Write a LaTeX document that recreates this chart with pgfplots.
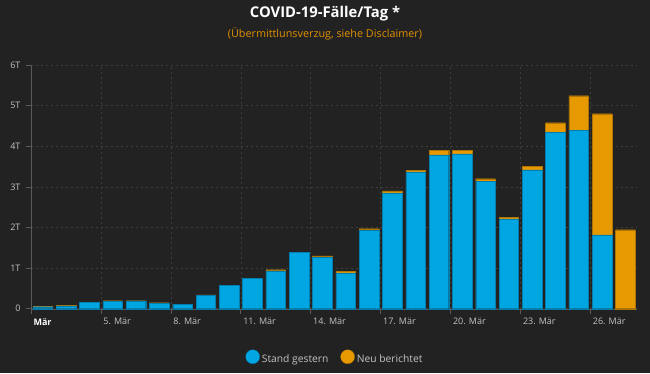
\documentclass[border=0pt]{standalone}
\usepackage{fontspec}
\setmainfont{Open Sans}
\usepackage{pgfplots}
\pgfplotsset{compat=1.18}
\definecolor{bg}{RGB}{34,34,34}
\definecolor{cblue}{RGB}{0,166,226}
\definecolor{cblueD}{RGB}{0,125,175}
\definecolor{corange}{RGB}{230,153,0}
\definecolor{corangeD}{RGB}{175,115,0}
\definecolor{gridc}{RGB}{62,62,62}
\definecolor{axc}{RGB}{90,90,90}
\definecolor{lbl}{RGB}{195,195,195}
\definecolor{subc}{RGB}{225,145,0}
\begin{document}
\begin{tikzpicture}
\fill[bg] (0pt,0pt) rectangle (650pt,373pt);
\node[font=\fontsize{14.8}{17}\selectfont\bfseries, text=white] at (325pt,359pt) {COVID-19-Fälle/Tag *};
\node[font=\fontsize{10.8}{12}\selectfont, text=subc] at (325pt,339pt) {(Übermittlunsverzug, siehe Disclaimer)};
\begin{axis}[
  at={(31pt,64.3pt)}, anchor=south west,
  scale only axis, width=606pt, height=243.7pt,
  ybar stacked, bar width=0.84,
  xmin=1.5, xmax=27.5, ymin=0, ymax=6,
  axis line style={axc},
  axis x line*=bottom, axis y line*=left,
  xtick={1.5,4.5,...,25.5},
  xticklabels={{\color{white}\bfseries Mär},5. Mär,8. Mär,11. Mär,14. Mär,17. Mär,20. Mär,23. Mär,26. Mär},
  xticklabel style={anchor=north west, xshift=-1pt, yshift=-1pt, font=\fontsize{9}{10}\selectfont, text=lbl},
  ytick={0,1,...,6},
  yticklabels={0,1T,2T,3T,4T,5T,6T},
  yticklabel style={font=\fontsize{9}{10}\selectfont, text=lbl, xshift=-2pt},
  tick style={axc, line width=0.6pt},
  major tick length=5pt,
  tick align=outside,
  xmajorgrids, ymajorgrids,
  major grid style={gridc, dash pattern=on 2pt off 3pt, line width=0.5pt},
  legend image code/.code={\fill[#1] (7pt,0.3em) circle (7pt);},
  legend style={at={(0.5017,-0.2023)}, anchor=center, draw=none, fill=none,
    text=lbl, font=\fontsize{10.3}{12}\selectfont, legend columns=2,
    /tikz/every even column/.append style={column sep=10pt},
    /tikz/every odd column/.append style={column sep=0pt}},
  clip=false,
]
\addplot[fill=cblue, draw=cblueD, line width=0.3pt] coordinates {
(2,0.05) (3,0.07) (4,0.15) (5,0.185) (6,0.195) (7,0.14) (8,0.10) (9,0.335)
(10,0.575) (11,0.74) (12,0.93) (13,1.39) (14,1.27) (15,0.885) (16,1.925)
(17,2.85) (18,3.37) (19,3.785) (20,3.81) (21,3.135) (22,2.21) (23,3.415)
(24,4.335) (25,4.385) (26,1.82) (27,0)};
\addplot[fill=corange, draw=corangeD, line width=0.3pt] coordinates {
(2,0.01) (3,0.02) (4,0.015) (5,0.012) (6,0.003) (7,0.008) (8,0.015) (9,0.008)
(10,0.008) (11,0.008) (12,0.03) (13,0.005) (14,0.03) (15,0.035) (16,0.045)
(17,0.05) (18,0.03) (19,0.115) (20,0.09) (21,0.065) (22,0.04) (23,0.085)
(24,0.245) (25,0.86) (26,2.98) (27,1.945)};
\legend{Stand gestern, Neu berichtet}
\end{axis}
\end{tikzpicture}
\end{document}
